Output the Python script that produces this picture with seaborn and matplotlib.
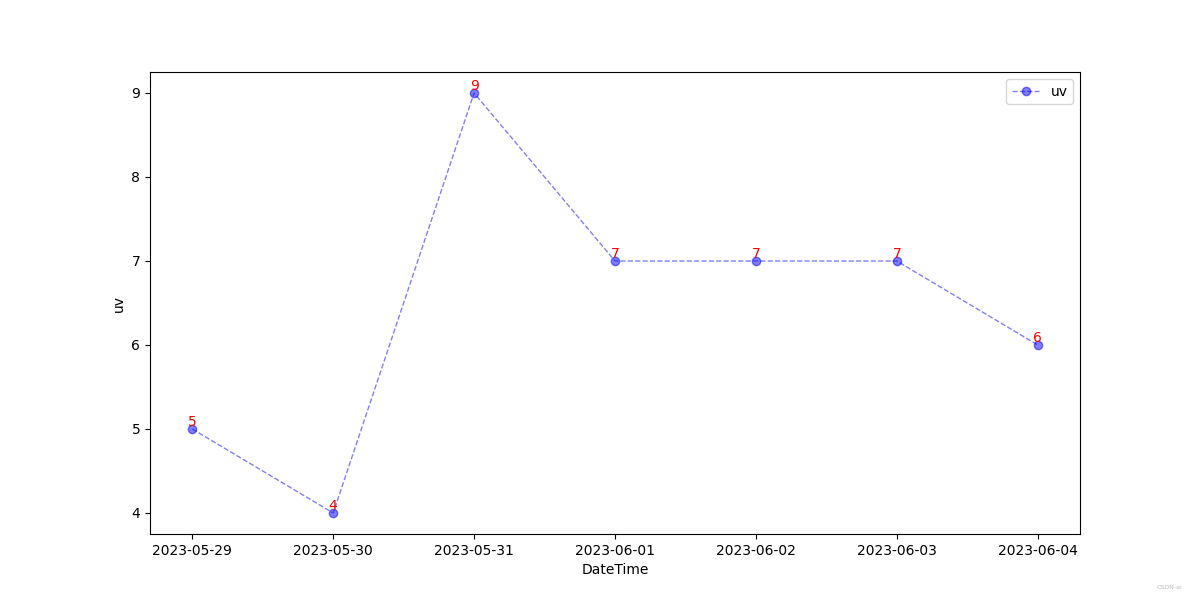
import pandas as pd
import seaborn as sns
import matplotlib.pyplot as plt

dates = ['2023-05-29', '2023-05-30', '2023-05-31', '2023-06-01',
         '2023-06-02', '2023-06-03', '2023-06-04']
uv = [5, 4, 9, 7, 7, 7, 6]

df = pd.DataFrame({'DateTime': dates, 'uv': uv})

plt.figure(figsize=(12, 6), dpi=100)
ax = sns.lineplot(data=df, x='DateTime', y='uv', color='blue', linestyle='--',
                  linewidth=1, marker='o', markersize=6, markeredgecolor='blue',
                  markeredgewidth=1, alpha=0.5, label='uv')

for i, v in enumerate(uv):
    ax.text(i, v, str(v), color='red', ha='center', va='bottom', fontsize=10)

plt.xlabel('DateTime')
plt.ylabel('uv')
plt.legend(loc='upper right')
plt.gcf().text(0.985, 0.018, 'CSDN-ai', color='#bbbbbb', fontsize=4.5, ha='right')

plt.savefig('out.png')
plt.close()
